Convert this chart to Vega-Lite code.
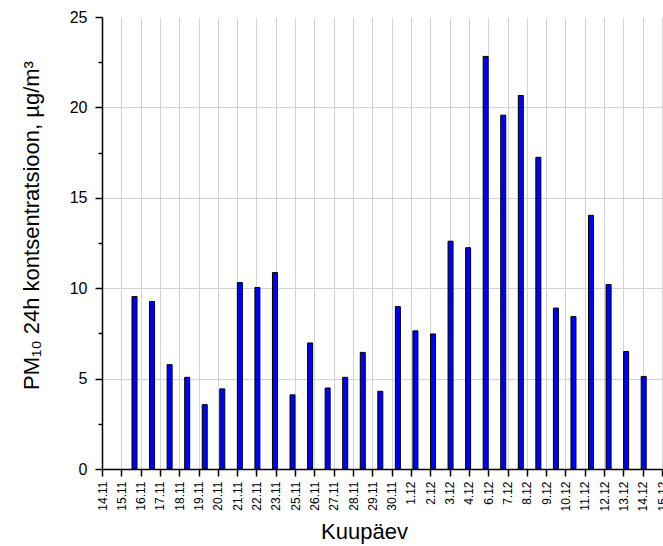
{
  "$schema": "https://vega.github.io/schema/vega-lite/v6.json",
  "width": 560,
  "height": 452,
  "autosize": {"type": "none"},
  "padding": {"left": 102, "top": 17, "right": 1, "bottom": 77},
  "background": "white",
  "config": {"view": {"stroke": null}, "font": "Liberation Sans"},
  "data": {
    "values": [
      {"date": "14.11", "pm10": 9.54},
      {"date": "15.11", "pm10": 9.26},
      {"date": "16.11", "pm10": 5.77},
      {"date": "17.11", "pm10": 5.07},
      {"date": "18.11", "pm10": 3.56},
      {"date": "19.11", "pm10": 4.43},
      {"date": "20.11", "pm10": 10.31},
      {"date": "21.11", "pm10": 10.04},
      {"date": "22.11", "pm10": 10.87},
      {"date": "23.11", "pm10": 4.10},
      {"date": "25.11", "pm10": 6.97},
      {"date": "26.11", "pm10": 4.48},
      {"date": "27.11", "pm10": 5.07},
      {"date": "28.11", "pm10": 6.45},
      {"date": "29.11", "pm10": 4.30},
      {"date": "30.11", "pm10": 8.98},
      {"date": "1.12", "pm10": 7.64},
      {"date": "2.12", "pm10": 7.47},
      {"date": "3.12", "pm10": 12.60},
      {"date": "4.12", "pm10": 12.24},
      {"date": "6.12", "pm10": 22.82},
      {"date": "7.12", "pm10": 19.57},
      {"date": "8.12", "pm10": 20.66},
      {"date": "9.12", "pm10": 17.24},
      {"date": "10.12", "pm10": 8.90},
      {"date": "11.12", "pm10": 8.43},
      {"date": "12.12", "pm10": 14.03},
      {"date": "13.12", "pm10": 10.20},
      {"date": "14.12", "pm10": 6.50},
      {"date": "15.12", "pm10": 5.12}
    ]
  },
  "layer": [
    {
      "mark": {"type": "point", "opacity": 0},
      "encoding": {
        "x": {
          "field": "date", "type": "nominal", "sort": null,
          "scale": {"type": "point", "padding": 0},
          "axis": {
            "grid": true, "gridColor": "#d3d3d3", "gridWidth": 1,
            "labelAngle": -90, "labelAlign": "right", "labelBaseline": "middle",
            "labelFontSize": 12, "labelPadding": 5, "labelColor": "black",
            "tickSize": 7, "tickColor": "black", "tickWidth": 1.5,
            "domainColor": "black", "domainWidth": 1.5,
            "title": "Kuupäev", "titleFontSize": 22, "titleFontWeight": "normal", "titleColor": "black",
            "titleX": 262, "titleY": 69, "titleAlign": "center", "titleBaseline": "alphabetic"
          }
        },
        "y": {
          "field": "pm10", "type": "quantitative",
          "scale": {"domain": [0, 25], "nice": false},
          "axis": {
            "values": [0, 2.5, 5, 7.5, 10, 12.5, 15, 17.5, 20, 22.5, 25],
            "labelExpr": "datum.value % 5 === 0 ? datum.label : ''",
            "labelOverlap": false,
            "labelFontSize": 16, "labelPadding": 8, "labelColor": "black",
            "tickSize": {"condition": {"test": "datum.value % 5 !== 0", "value": 4}, "value": 7},
            "tickColor": "black", "tickWidth": 1.5,
            "domainColor": "black", "domainWidth": 1.5,
            "grid": true, "gridColor": "#d3d3d3", "gridWidth": 1,
            "gridOpacity": {"condition": {"test": "datum.value % 5 === 0 && datum.value > 0 && datum.value < 25", "value": 1}, "value": 0},
            "title": "PM₁₀ 24h kontsentratsioon, µg/m³",
            "titleFontSize": 22, "titleFontWeight": "normal", "titleColor": "black",
            "titleAngle": -90, "titleX": -64, "titleY": 208, "titleAlign": "center", "titleBaseline": "alphabetic"
          }
        }
      }
    },
    {
      "mark": {"type": "bar", "fill": "#0000ff", "stroke": "black", "strokeWidth": 1},
      "encoding": {
        "x": {
          "field": "date", "type": "nominal", "sort": null,
          "scale": {"type": "band", "range": [30, 544.2], "paddingInner": 0.715, "paddingOuter": 0},
          "axis": null
        },
        "y": {"field": "pm10", "type": "quantitative"}
      }
    }
  ],
  "resolve": {"scale": {"x": "independent"}}
}
